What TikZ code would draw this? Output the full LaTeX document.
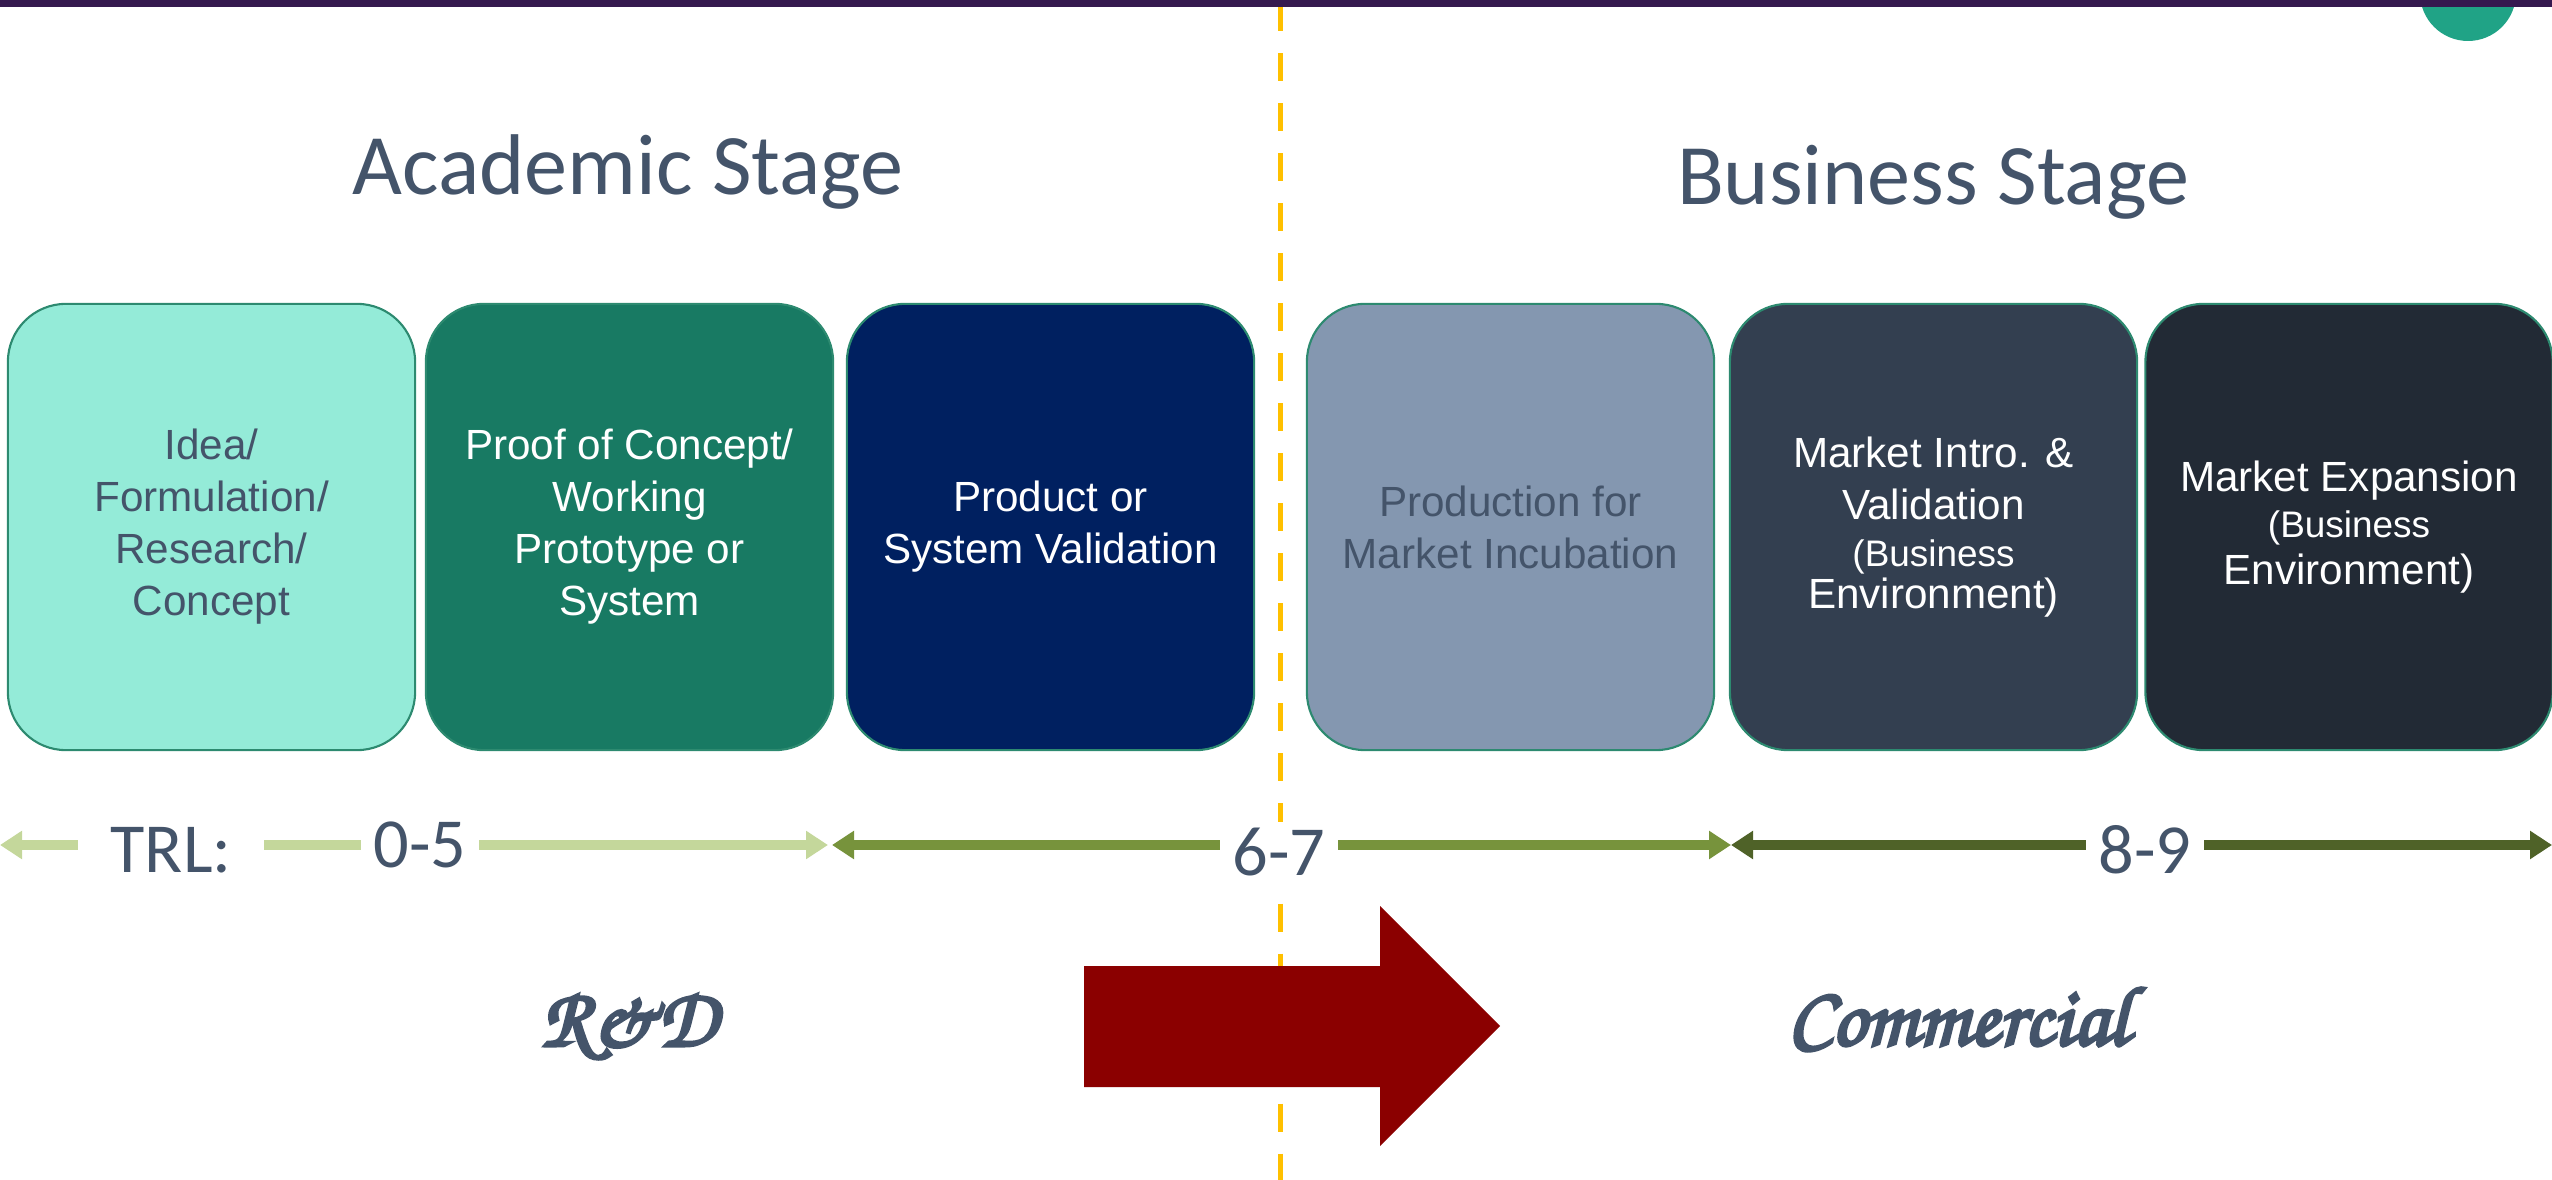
\documentclass[tikz,border=0pt]{standalone}
\usepackage[T1]{fontenc}
\usepackage{fontspec}
\setmainfont{Liberation Sans}
\newfontfamily\headfont{Carlito}
\newcommand{\brushfont}{\fontencoding{T1}\fontfamily{pzc}\fontseries{mb}\fontshape{it}\selectfont}
% heavier strokes for the script labels
\newcommand{\heavy}[1]{\special{pdf:literal direct 2 Tr 0.9 w}#1\special{pdf:literal direct 0 Tr}}
\usepackage{xcolor}
\usepackage{tikz}
\usetikzlibrary{arrows.meta}

\definecolor{barpurple}{HTML}{35194F}
\definecolor{dotgreen}{HTML}{20A386}
\definecolor{divider}{HTML}{FFC000}
\definecolor{slate}{HTML}{44546A}
\definecolor{ideafill}{HTML}{94EBD8}
\definecolor{prooffill}{HTML}{187A63}
\definecolor{productfill}{HTML}{002060}
\definecolor{incubfill}{HTML}{8497B0}
\definecolor{introfill}{HTML}{333F50}
\definecolor{expandfill}{HTML}{222A35}
\definecolor{boxline}{HTML}{2D8A70}
\definecolor{trllight}{HTML}{C4D79B}
\definecolor{trlmid}{HTML}{77933C}
\definecolor{trldark}{HTML}{4F6228}
\definecolor{pushred}{HTML}{8B0000}

\begin{document}
\begin{tikzpicture}[x=0.01cm, y=0.01cm]
\tikzstyle{every node}+=[inner sep=0pt]
\tikzstyle{stage}=[draw=boxline, line width=0.6pt, rounded corners=0.58cm, minimum width=4.07cm, minimum height=4.46cm, align=center, font=\fontsize{12}{14.8}\selectfont]
\tikzstyle{heading}=[anchor=base, text=slate, font=\headfont\fontsize{24.5}{29}\selectfont]
\tikzstyle{trlnum}=[fill=white, text=slate, inner xsep=0.13cm, inner ysep=0.06cm, font=\headfont\fontsize{20}{24}\selectfont]
\tikzstyle{trl}=[line width=0.09cm, {Triangle[length=0.22cm,width=0.27cm]}-{Triangle[length=0.22cm,width=0.27cm]}]
\tikzstyle{phase}=[anchor=base, text=slate, font=\brushfont\fontsize{24}{28}\selectfont]
\useasboundingbox (0,0) rectangle (2552,-1180);

% divider between the two stages
\draw [divider, line width=0.05cm, dash pattern=on 0.28cm off 0.22cm] (1280,-3) -- (1280,-1180);

% top bar
\fill [dotgreen] (2468,7) circle (48);
\fill [barpurple] (0,0) rectangle (2552,-7);

% headings
\node [heading] (academic) at (628,-195) {Academic Stage};
\node [heading] (business) at (1933,-205) {Business Stage};

% stages
\node [stage, fill=ideafill, text=slate] (idea) at (211.5,-527) {Idea/\\Formulation/\\Research/\\Concept};
\node [stage, fill=prooffill, text=white] (proof) at (629.5,-527) {Proof of Concept/\\Working\\Prototype or\\System};
\node [stage, fill=productfill, text=white] (product) at (1050.5,-527) {Product or\\System Validation};
\node [stage, fill=incubfill, text=slate] (incub) at (1510.5,-527) {Production for\\Market Incubation};
\node [stage, fill=introfill, text=white] (intro) at (1933.5,-527) {Market Intro. \&\\Validation\\[-1.4pt]\fontsize{10.5}{12.6}\selectfont(Business\\[-2.8pt]Environment)};
\node [stage, fill=expandfill, text=white] (expand) at (2349,-527) {Market Expansion\\[-1.9pt]\fontsize{10.5}{12.6}\selectfont(Business\\[-1.4pt]Environment)};

% TRL scale
\coordinate (trlStart) at (0,-845);
\coordinate (lowEnd) at (828,-845);
\coordinate (midStart) at (832,-845);
\coordinate (midEnd) at (1731,-845);
\coordinate (trlEnd) at (2552,-845);
\draw [trl, trllight] (trlStart) -- (lowEnd);
\draw [trl, trlmid] (midStart) -- (midEnd);
\draw [trl, trldark] (midEnd) -- (trlEnd);
\node [trlnum, inner xsep=0.33cm] (trl) at (171,-850) {TRL:};
\node [trlnum] (low) at (420,-845) {0-5};
\node [trlnum] (mid) at (1279,-852) {6-7};
\node [trlnum] (high) at (2145,-850) {8-9};

% push from R&D to market
\fill [pushred] (1084,-966) -- (1380,-966) -- (1380,-906) -- (1500,-1026) -- (1380,-1146) -- (1380,-1087) -- (1084,-1087) -- cycle;
\node [phase] (rd) at (629,-1046) {\heavy{R\&D}};
\node [phase] (commercial) at (1958,-1045) {\heavy{Commercial}};
\end{tikzpicture}
\end{document}
